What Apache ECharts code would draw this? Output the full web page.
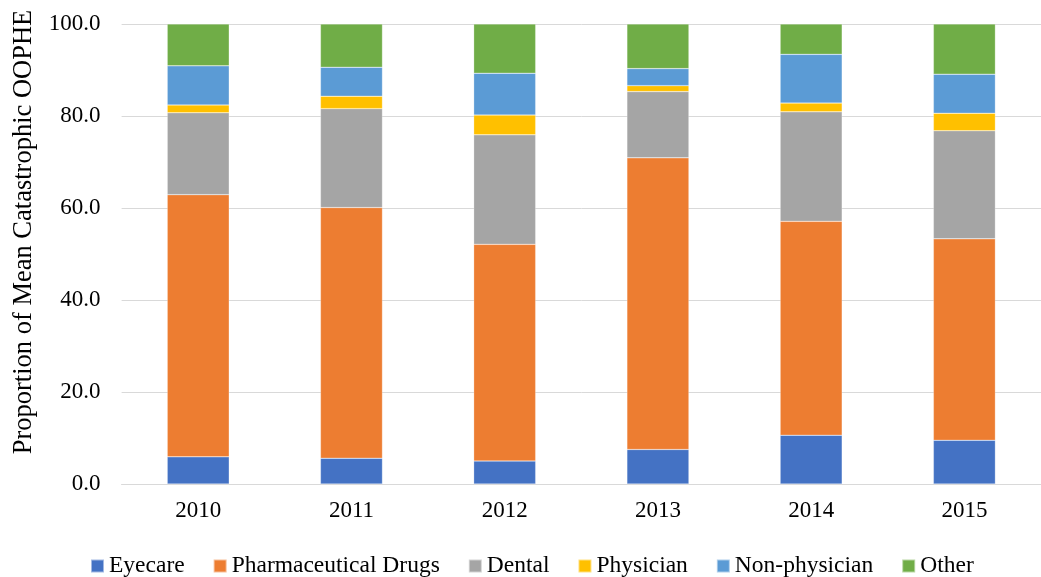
<!DOCTYPE html>
<html>
<head>
<meta charset="utf-8">
<script src="https://cdn.jsdelivr.net/npm/echarts@6/dist/echarts.min.js"></script>
<style>
  html, body { margin: 0; padding: 0; background: #fff; }
  #chart { width: 1041px; height: 577px; }
</style>
</head>
<body>
<div id="chart"></div>
<script>
const years = ['2010', '2011', '2012', '2013', '2014', '2015']
const eyecare = [5.9, 5.6, 5.0, 7.5, 10.6, 9.5]
const pharma = [57.0, 54.5, 47.1, 63.4, 46.5, 43.8]
const dental = [17.8, 21.5, 23.8, 14.4, 23.8, 23.5]
const physician = [1.7, 2.7, 4.3, 1.3, 1.9, 3.8]
const nonPhysician = [8.5, 6.3, 9.1, 3.7, 10.6, 8.5]
const other = [9.1, 9.4, 10.7, 9.7, 6.6, 10.9]
const yTitle = 'Proportion of Mean Catastrophic OOPHE'

const font = '"Liberation Serif", "Times New Roman", serif'

function bar(name, data, color) {
  return {
    name: name,
    type: 'bar',
    stack: 'total',
    barWidth: 62,
    data: data,
    itemStyle: { color: color, borderColor: 'rgba(255,255,255,0.5)', borderWidth: 0.5 }
  }
}

const myChart = echarts.init(document.getElementById('chart'))
myChart.setOption({
  animation: false,
  textStyle: { fontFamily: font, color: '#000' },
  grid: { left: 121.6, top: 24, width: 928.4, height: 460 },
  legend: {
    top: 549,
    left: 85,
    itemWidth: 13,
    itemHeight: 13,
    itemGap: 28,
    icon: 'rect',
    textStyle: { fontFamily: font, fontSize: 23.5, color: '#000' },
    data: ['Eyecare', 'Pharmaceutical Drugs', 'Dental', 'Physician', 'Non-physician', 'Other']
  },
  graphic: [{
    type: 'text',
    x: 24,
    y: 232,
    rotation: Math.PI / 2,
    style: {
      text: yTitle,
      font: '26.5px ' + font,
      fill: '#000',
      align: 'center',
      verticalAlign: 'middle'
    }
  }],
  xAxis: {
    type: 'category',
    data: years,
    axisTick: { show: false },
    axisLine: { lineStyle: { color: '#D9D9D9', width: 1 } },
    axisLabel: { fontFamily: font, fontSize: 23, color: '#000', margin: 15 }
  },
  yAxis: {
    type: 'value',
    min: 0,
    max: 100,
    interval: 20,
    axisLabel: {
      fontFamily: font, fontSize: 23, color: '#000', margin: 21,
      formatter: v => v.toFixed(1)
    },
    splitLine: { lineStyle: { color: '#D9D9D9', width: 1 } }
  },
  series: [
    bar('Eyecare', eyecare, '#4472C4'),
    bar('Pharmaceutical Drugs', pharma, '#ED7D31'),
    bar('Dental', dental, '#A5A5A5'),
    bar('Physician', physician, '#FFC000'),
    bar('Non-physician', nonPhysician, '#5B9BD5'),
    bar('Other', other, '#70AD47')
  ]
})
</script>
</body>
</html>
